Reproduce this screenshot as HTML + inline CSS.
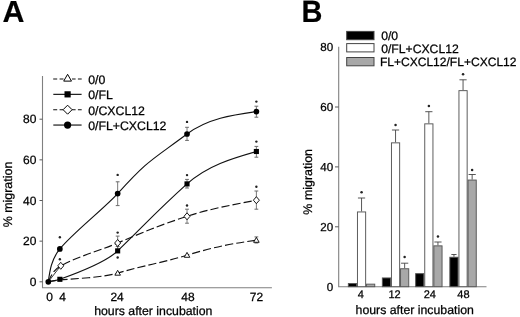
<!DOCTYPE html>
<html><head><meta charset="utf-8"><style>
html,body{margin:0;padding:0;background:#fff;}
svg{display:block;}
text{text-rendering:geometricPrecision;font-family:"Liberation Sans",Arial,sans-serif;fill:#000;stroke:#000;stroke-width:0.25px;}
</style></head><body>
<svg width="520" height="317" viewBox="0 0 520 317">
<text x="2.4" y="22.3" font-size="30.4" font-weight="bold" style="stroke-width:0.15px">A</text>
<path d="M42.5 75.9 V287.7 H271.9" fill="none" stroke="#808080" stroke-width="1.1"/>
<line x1="39.5" y1="281.8" x2="42.5" y2="281.8" stroke="#5a5a5a" stroke-width="1"/>
<text x="36.4" y="285.9" font-size="12" text-anchor="end">0</text>
<line x1="39.5" y1="241.15" x2="42.5" y2="241.15" stroke="#5a5a5a" stroke-width="1"/>
<text x="36.4" y="245.25" font-size="12" text-anchor="end">20</text>
<line x1="39.5" y1="200.5" x2="42.5" y2="200.5" stroke="#5a5a5a" stroke-width="1"/>
<text x="36.4" y="204.6" font-size="12" text-anchor="end">40</text>
<line x1="39.5" y1="159.85" x2="42.5" y2="159.85" stroke="#5a5a5a" stroke-width="1"/>
<text x="36.4" y="163.95" font-size="12" text-anchor="end">60</text>
<line x1="39.5" y1="119.2" x2="42.5" y2="119.2" stroke="#5a5a5a" stroke-width="1"/>
<text x="36.4" y="123.3" font-size="12" text-anchor="end">80</text>
<text x="49.5" y="300.5" font-size="12" text-anchor="middle">0</text>
<text x="62.66" y="300.5" font-size="12" text-anchor="middle">4</text>
<text x="117.1" y="300.5" font-size="12" text-anchor="middle">24</text>
<text x="188" y="300.5" font-size="12" text-anchor="middle">48</text>
<text x="256.5" y="300.5" font-size="12" text-anchor="middle">72</text>
<text x="153.3" y="315.2" font-size="12.3" text-anchor="middle">hours after incubation</text>
<text transform="translate(12.2 194.5) rotate(-90)" font-size="12.45" text-anchor="middle">% migration</text>
<path d="M48.3 281.8 C51.75 281.12 55.2 280.44 59.86 280 C75.74 278.5 102.36 277.61 117.66 273.1 C142.02 265.91 162.71 262.58 187.02 255.2 C219.44 245.35 237.91 242.78 256.38 240.2" fill="none" stroke="#111" stroke-width="1.15" stroke-dasharray="8.2 3.1"/>
<path d="M48.3 281.8 C50.96 275.7 53.62 269.59 60.8 265.8 C80.71 255.29 96.93 251.79 117.66 243 C144.44 231.65 159.39 225.41 187.02 216.3 C208.17 209.32 232.27 204.76 256.38 200.2" fill="none" stroke="#111" stroke-width="1.15" stroke-dasharray="8.2 3.1"/>
<path d="M48.3 281.8 L60.4 266.2" stroke="#222" stroke-width="0.9"/>
<path d="M48.3 281.8 C51.85 281.35 55.41 280.89 59.86 279.3 C75.02 273.88 106.11 262.12 117.66 250.9 C147.36 222.06 156.29 211.65 187.02 183.9 C207.37 165.53 231.87 158.51 256.38 151.5" fill="none" stroke="#111" stroke-width="1.15"/>
<path d="M48.3 281.8 C49.79 270.65 51.28 259.5 59.86 248.9 C72.51 233.27 104.12 208.46 117.66 193.6 C148.87 159.33 149.83 161.67 187.02 134 C207.84 118.51 232.11 115.06 256.38 111.6" fill="none" stroke="#111" stroke-width="1.15"/>
<line x1="117.66" y1="181.8" x2="117.66" y2="205.6" stroke="#6a6a6a" stroke-width="0.9"/><line x1="115.76" y1="181.8" x2="119.56" y2="181.8" stroke="#6a6a6a" stroke-width="1"/><line x1="115.76" y1="205.6" x2="119.56" y2="205.6" stroke="#6a6a6a" stroke-width="1"/>
<line x1="187.02" y1="127.3" x2="187.02" y2="140.4" stroke="#6a6a6a" stroke-width="0.9"/><line x1="185.12" y1="127.3" x2="188.92" y2="127.3" stroke="#6a6a6a" stroke-width="1"/><line x1="185.12" y1="140.4" x2="188.92" y2="140.4" stroke="#6a6a6a" stroke-width="1"/>
<line x1="256.38" y1="106.2" x2="256.38" y2="117.2" stroke="#6a6a6a" stroke-width="0.9"/><line x1="254.48" y1="106.2" x2="258.28" y2="106.2" stroke="#6a6a6a" stroke-width="1"/><line x1="254.48" y1="117.2" x2="258.28" y2="117.2" stroke="#6a6a6a" stroke-width="1"/>
<line x1="187.02" y1="179.4" x2="187.02" y2="188" stroke="#6a6a6a" stroke-width="0.9"/><line x1="185.12" y1="179.4" x2="188.92" y2="179.4" stroke="#6a6a6a" stroke-width="1"/><line x1="185.12" y1="188" x2="188.92" y2="188" stroke="#6a6a6a" stroke-width="1"/>
<line x1="256.38" y1="146.4" x2="256.38" y2="157.2" stroke="#6a6a6a" stroke-width="0.9"/><line x1="254.48" y1="146.4" x2="258.28" y2="146.4" stroke="#6a6a6a" stroke-width="1"/><line x1="254.48" y1="157.2" x2="258.28" y2="157.2" stroke="#6a6a6a" stroke-width="1"/>
<line x1="117.66" y1="246.5" x2="117.66" y2="252.5" stroke="#6a6a6a" stroke-width="0.9"/><line x1="115.76" y1="246.5" x2="119.56" y2="246.5" stroke="#6a6a6a" stroke-width="1"/>
<line x1="117.66" y1="236.1" x2="117.66" y2="249.3" stroke="#6a6a6a" stroke-width="0.9"/><line x1="115.76" y1="236.1" x2="119.56" y2="236.1" stroke="#6a6a6a" stroke-width="1"/><line x1="115.76" y1="249.3" x2="119.56" y2="249.3" stroke="#6a6a6a" stroke-width="1"/>
<line x1="187.02" y1="209.2" x2="187.02" y2="223.2" stroke="#6a6a6a" stroke-width="0.9"/><line x1="185.12" y1="209.2" x2="188.92" y2="209.2" stroke="#6a6a6a" stroke-width="1"/><line x1="185.12" y1="223.2" x2="188.92" y2="223.2" stroke="#6a6a6a" stroke-width="1"/>
<line x1="256.38" y1="191" x2="256.38" y2="209.2" stroke="#6a6a6a" stroke-width="0.9"/><line x1="254.48" y1="191" x2="258.28" y2="191" stroke="#6a6a6a" stroke-width="1"/><line x1="254.48" y1="209.2" x2="258.28" y2="209.2" stroke="#6a6a6a" stroke-width="1"/>
<line x1="256.38" y1="236.9" x2="256.38" y2="243" stroke="#6a6a6a" stroke-width="0.9"/><line x1="254.48" y1="236.9" x2="258.28" y2="236.9" stroke="#6a6a6a" stroke-width="1"/><line x1="254.48" y1="243" x2="258.28" y2="243" stroke="#6a6a6a" stroke-width="1"/>
<circle cx="59.86" cy="237.3" r="1.2" fill="#222"/>
<circle cx="117.66" cy="174.9" r="1.2" fill="#222"/>
<circle cx="187.02" cy="121.9" r="1.2" fill="#222"/>
<circle cx="256.38" cy="101.6" r="1.2" fill="#222"/>
<circle cx="117.66" cy="257.5" r="1.2" fill="#222"/>
<circle cx="187.02" cy="175.1" r="1.2" fill="#222"/>
<circle cx="256.38" cy="141.6" r="1.2" fill="#222"/>
<circle cx="59.86" cy="259.2" r="1.2" fill="#222"/>
<circle cx="117.66" cy="232.6" r="1.2" fill="#222"/>
<circle cx="187.02" cy="205.5" r="1.2" fill="#222"/>
<circle cx="256.38" cy="186.8" r="1.2" fill="#222"/>
<path d="M117.66 270.3 L120.46 275.2 L114.86 275.2Z" fill="#fff" stroke="#000" stroke-width="0.9"/>
<path d="M187.02 252.4 L189.82 257.3 L184.22 257.3Z" fill="#fff" stroke="#000" stroke-width="0.9"/>
<path d="M256.38 237.4 L259.18 242.3 L253.58 242.3Z" fill="#fff" stroke="#000" stroke-width="0.9"/>
<path d="M60.76 262.3 L63.77 265.8 L60.76 269.3 L57.75 265.8Z" fill="#fff" stroke="#000" stroke-width="0.9"/>
<path d="M117.66 239.5 L120.67 243 L117.66 246.5 L114.65 243Z" fill="#fff" stroke="#000" stroke-width="0.9"/>
<path d="M187.02 212.8 L190.03 216.3 L187.02 219.8 L184.01 216.3Z" fill="#fff" stroke="#000" stroke-width="0.9"/>
<path d="M256.38 196.7 L259.39 200.2 L256.38 203.7 L253.37 200.2Z" fill="#fff" stroke="#000" stroke-width="0.9"/>
<rect x="57.31" y="276.75" width="5.1" height="5.1" fill="#000"/>
<rect x="115.11" y="248.35" width="5.1" height="5.1" fill="#000"/>
<rect x="184.47" y="181.35" width="5.1" height="5.1" fill="#000"/>
<rect x="253.83" y="148.95" width="5.1" height="5.1" fill="#000"/>
<circle cx="48.3" cy="281.8" r="2.85" fill="#000"/>
<circle cx="59.86" cy="248.9" r="2.85" fill="#000"/>
<circle cx="117.66" cy="193.6" r="2.85" fill="#000"/>
<circle cx="187.02" cy="134" r="2.85" fill="#000"/>
<circle cx="256.38" cy="111.6" r="2.85" fill="#000"/>
<path d="M53.2 79H57.2M59.6 79H63.5M72 79H75.6M77.9 79H81.7" stroke="#111" stroke-width="1.1"/>
<path d="M67.6 74.3 L71.5 81.12 L63.7 81.12Z" fill="#fff" stroke="#000" stroke-width="1"/>
<text x="88.2" y="83.8" font-size="12.3">0/0</text>
<line x1="53.3" y1="94.35" x2="81.6" y2="94.35" stroke="#111" stroke-width="1.15"/>
<rect x="64.5" y="91.25" width="6.2" height="6.2" fill="#000"/>
<text x="88.2" y="99.25" font-size="12.3">0/FL</text>
<path d="M53.2 109.7H57.2M59.6 109.7H63.5M72 109.7H75.6M77.9 109.7H81.7" stroke="#111" stroke-width="1.1"/>
<path d="M67.6 105.2 L72.1 109.7 L67.6 114.2 L63.1 109.7Z" fill="#fff" stroke="#000" stroke-width="1"/>
<text x="88.2" y="114.7" font-size="12.3">0/CXCL12</text>
<line x1="53.3" y1="125.05" x2="81.6" y2="125.05" stroke="#111" stroke-width="1.15"/>
<circle cx="67.6" cy="125.05" r="3.6" fill="#000"/>
<text x="88.2" y="130.15" font-size="12.3">0/FL+CXCL12</text>
<text transform="translate(301.6 22.2) scale(0.94 1)" font-size="30.8" font-weight="bold" style="stroke-width:0.15px">B</text>
<path d="M338.7 46.8 V286.7 H486.5" fill="none" stroke="#808080" stroke-width="1.1"/>
<text x="333.1" y="290.9" font-size="11.6" text-anchor="end">0</text>
<line x1="335" y1="226.8" x2="338.7" y2="226.8" stroke="#5a5a5a" stroke-width="1"/>
<text x="333.1" y="231" font-size="11.6" text-anchor="end">20</text>
<line x1="335" y1="166.9" x2="338.7" y2="166.9" stroke="#5a5a5a" stroke-width="1"/>
<text x="333.1" y="171.1" font-size="11.6" text-anchor="end">40</text>
<line x1="335" y1="107" x2="338.7" y2="107" stroke="#5a5a5a" stroke-width="1"/>
<text x="333.1" y="111.2" font-size="11.6" text-anchor="end">60</text>
<text x="333.1" y="51.3" font-size="11.6" text-anchor="end">80</text>
<text transform="translate(312.4 181.8) rotate(-90)" font-size="12.45" text-anchor="middle">% migration</text>
<text x="414.7" y="313.9" font-size="12.3" text-anchor="middle">hours after incubation</text>
<rect x="348.35" y="283.55" width="8.2" height="3.15" fill="#000" stroke="#555" stroke-width="0.95"/>
<line x1="361.55" y1="198" x2="361.55" y2="211.5" stroke="#444" stroke-width="0.9"/>
<line x1="357.95" y1="198" x2="365.15" y2="198" stroke="#444" stroke-width="0.9"/>
<rect x="357.45" y="211.95" width="8.2" height="74.75" fill="#fff" stroke="#555" stroke-width="0.95"/>
<circle cx="361.55" cy="192.3" r="1.25" fill="#222"/>
<rect x="366.55" y="284.15" width="8.2" height="2.55" fill="#a8a8a8" stroke="#555" stroke-width="0.95"/>
<text x="360.7" y="297.6" font-size="11" text-anchor="middle">4</text>
<rect x="382.35" y="277.95" width="8.2" height="8.75" fill="#000" stroke="#555" stroke-width="0.95"/>
<line x1="395.55" y1="130" x2="395.55" y2="142.4" stroke="#444" stroke-width="0.9"/>
<line x1="391.95" y1="130" x2="399.15" y2="130" stroke="#444" stroke-width="0.9"/>
<rect x="391.45" y="142.85" width="8.2" height="143.85" fill="#fff" stroke="#555" stroke-width="0.95"/>
<circle cx="395.55" cy="124.9" r="1.25" fill="#222"/>
<line x1="404.65" y1="263.2" x2="404.65" y2="268.3" stroke="#444" stroke-width="0.9"/>
<line x1="401.05" y1="263.2" x2="408.25" y2="263.2" stroke="#444" stroke-width="0.9"/>
<rect x="400.55" y="268.75" width="8.2" height="17.95" fill="#a8a8a8" stroke="#555" stroke-width="0.95"/>
<circle cx="404.65" cy="256.9" r="1.25" fill="#222"/>
<text x="394.5" y="297.6" font-size="11" text-anchor="middle">12</text>
<rect x="415.65" y="273.65" width="8.2" height="13.05" fill="#000" stroke="#555" stroke-width="0.95"/>
<line x1="428.85" y1="111.7" x2="428.85" y2="123.4" stroke="#444" stroke-width="0.9"/>
<line x1="425.25" y1="111.7" x2="432.45" y2="111.7" stroke="#444" stroke-width="0.9"/>
<rect x="424.75" y="123.85" width="8.2" height="162.85" fill="#fff" stroke="#555" stroke-width="0.95"/>
<circle cx="428.85" cy="106.1" r="1.25" fill="#222"/>
<line x1="437.95" y1="242" x2="437.95" y2="245.4" stroke="#444" stroke-width="0.9"/>
<line x1="434.35" y1="242" x2="441.55" y2="242" stroke="#444" stroke-width="0.9"/>
<rect x="433.85" y="245.85" width="8.2" height="40.85" fill="#a8a8a8" stroke="#555" stroke-width="0.95"/>
<circle cx="437.95" cy="236.6" r="1.25" fill="#222"/>
<text x="429.8" y="297.6" font-size="11" text-anchor="middle">24</text>
<line x1="453.95" y1="254.5" x2="453.95" y2="256.8" stroke="#444" stroke-width="0.9"/>
<line x1="451.35" y1="254.5" x2="456.55" y2="254.5" stroke="#444" stroke-width="0.9"/>
<rect x="449.85" y="257.25" width="8.2" height="29.45" fill="#000" stroke="#555" stroke-width="0.95"/>
<line x1="463.05" y1="79.8" x2="463.05" y2="90.2" stroke="#444" stroke-width="0.9"/>
<line x1="459.45" y1="79.8" x2="466.65" y2="79.8" stroke="#444" stroke-width="0.9"/>
<rect x="458.95" y="90.65" width="8.2" height="196.05" fill="#fff" stroke="#555" stroke-width="0.95"/>
<circle cx="463.05" cy="74.2" r="1.25" fill="#222"/>
<line x1="472.15" y1="174.5" x2="472.15" y2="179.6" stroke="#444" stroke-width="0.9"/>
<line x1="468.55" y1="174.5" x2="475.75" y2="174.5" stroke="#444" stroke-width="0.9"/>
<rect x="468.05" y="180.05" width="8.2" height="106.65" fill="#a8a8a8" stroke="#555" stroke-width="0.95"/>
<circle cx="472.15" cy="170.1" r="1.25" fill="#222"/>
<text x="463.4" y="297.6" font-size="11" text-anchor="middle">48</text>
<rect x="346.7" y="31.4" width="27.3" height="8.3" fill="#000" stroke="#444" stroke-width="1"/>
<text x="381.2" y="39.9" font-size="12.2">0/0</text>
<rect x="346.7" y="43.6" width="27.3" height="8.3" fill="#fff" stroke="#444" stroke-width="1"/>
<text x="381.2" y="53.1" font-size="12.2">0/FL+CXCL12</text>
<rect x="346.7" y="57.5" width="27.3" height="8.3" fill="#a8a8a8" stroke="#444" stroke-width="1"/>
<text x="379.9" y="66.3" font-size="12.05">FL+CXCL12/FL+CXCL12</text>
</svg>
</body></html>
